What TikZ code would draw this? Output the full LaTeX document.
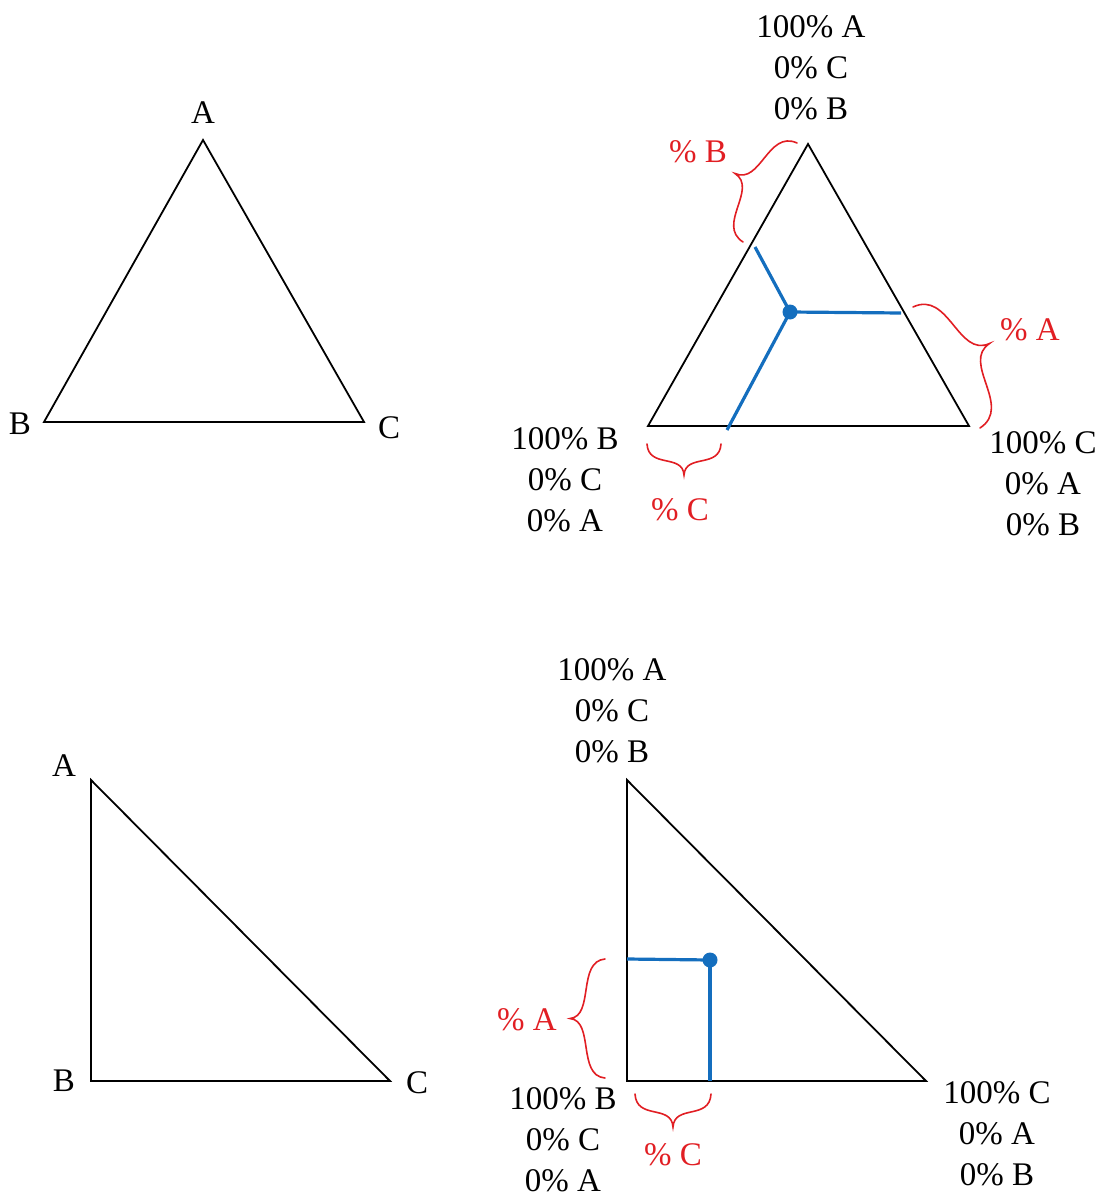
\documentclass[tikz,border=0pt]{standalone}
\usepackage{fontspec}
\setmainfont{Liberation Serif}
\definecolor{bracered}{RGB}{225,30,35}
\definecolor{lineblue}{RGB}{20,110,190}
\begin{document}
\begin{tikzpicture}[x=1pt,y=-1pt,
  tri/.style={draw=black,line width=1.8pt,line join=miter},
  lbl/.style={font=\fontsize{33}{41}\selectfont,inner sep=0pt,align=center,text=black},
  rlbl/.style={font=\fontsize{33}{41}\selectfont,inner sep=0pt,text=bracered},
  bluel/.style={draw=lineblue,line width=3.2pt},
  dotp/.style={circle,fill=lineblue,inner sep=0pt,minimum size=15pt},
  brc/.style={draw=bracered,line width=1.6pt,line cap=round}]
\path[use as bounding box] (0,0) rectangle (1101,1198);
\def\bracepath{(0,0) .. controls (0.02,0.8) and (0.48,0.3) .. (0.5,1) .. controls (0.52,0.3) and (0.98,0.8) .. (1,0)}
% ---- top-left triangle
\coordinate (tlA) at (203,140);
\coordinate (tlB) at (44,422);
\coordinate (tlC) at (364,422);
\draw[tri] (tlA) -- (tlB) -- (tlC) -- cycle;
\node[lbl] (tlAl) at (203,113) {A};
\node[lbl] (tlBl) at (20,424) {B};
\node[lbl] (tlCl) at (389,428) {C};
% ---- top-right triangle
\coordinate (trA) at (808,144);
\coordinate (trB) at (648,426);
\coordinate (trC) at (969,426);
\draw[tri] (trA) -- (trB) -- (trC) -- cycle;
\node[lbl] (trAl) at (811,68) {100\% A\\0\% C\\0\% B};
\node[lbl] (trBl) at (565,480) {100\% B\\0\% C\\0\% A};
\node[lbl] (trCl) at (1043,484) {100\% C\\0\% A\\0\% B};
\node[dotp] (trP) at (790,312) {};
\coordinate (trPa) at (901,313);
\coordinate (trPb) at (755,247);
\coordinate (trPc) at (727,430);
\draw[bluel] (trP.center) -- (trPa);
\draw[bluel] (trP.center) -- (trPb);
\draw[bluel] (trP.center) -- (trPc);
\begin{scope}[shift={(743,242)},x={(54pt,99pt)},y={(-35pt,19pt)}]
  \draw[brc] \bracepath;
\end{scope}
\node[rlbl] (pB) at (698,152) {\% B};
\begin{scope}[shift={(913,307)},x={(67pt,-121pt)},y={(43pt,24pt)}]
  \draw[brc] \bracepath;
\end{scope}
\node[rlbl] (pA) at (1030,330) {\% A};
\begin{scope}[shift={(647,444)},x={(74pt,0pt)},y={(0pt,-31pt)}]
  \draw[brc] \bracepath;
\end{scope}
\node[rlbl] (pC) at (680,510) {\% C};
% ---- bottom-left triangle
\coordinate (blA) at (91,780);
\coordinate (blB) at (91,1081);
\coordinate (blC) at (390,1081);
\draw[tri] (blA) -- (blB) -- (blC) -- cycle;
\node[lbl] (blAl) at (64,766) {A};
\node[lbl] (blBl) at (64,1081) {B};
\node[lbl] (blCl) at (417,1083) {C};
% ---- bottom-right triangle
\coordinate (brA) at (627,780);
\coordinate (brB) at (627,1081);
\coordinate (brC) at (926,1081);
\draw[tri] (brA) -- (brB) -- (brC) -- cycle;
\node[lbl] (brAl) at (612,711) {100\% A\\0\% C\\0\% B};
\node[lbl] (brBl) at (563,1140) {100\% B\\0\% C\\0\% A};
\node[lbl] (brCl) at (997,1134) {100\% C\\0\% A\\0\% B};
\node[dotp] (brP) at (710,960) {};
\coordinate (brPa) at (627,959);
\coordinate (brPc) at (710,1081);
\draw[bluel] (brP.center) -- (brPa);
\draw[bluel] (brP.center) -- (brPc);
\begin{scope}[shift={(605,959)},x={(0pt,-119pt)},y={(-35pt,0pt)}]
  \draw[brc] \bracepath;
\end{scope}
\node[rlbl] (bpA) at (527,1020) {\% A};
\begin{scope}[shift={(635,1094)},x={(76pt,0pt)},y={(0pt,-33pt)}]
  \draw[brc] \bracepath;
\end{scope}
\node[rlbl] (bpC) at (673,1155) {\% C};
\end{tikzpicture}
\end{document}
